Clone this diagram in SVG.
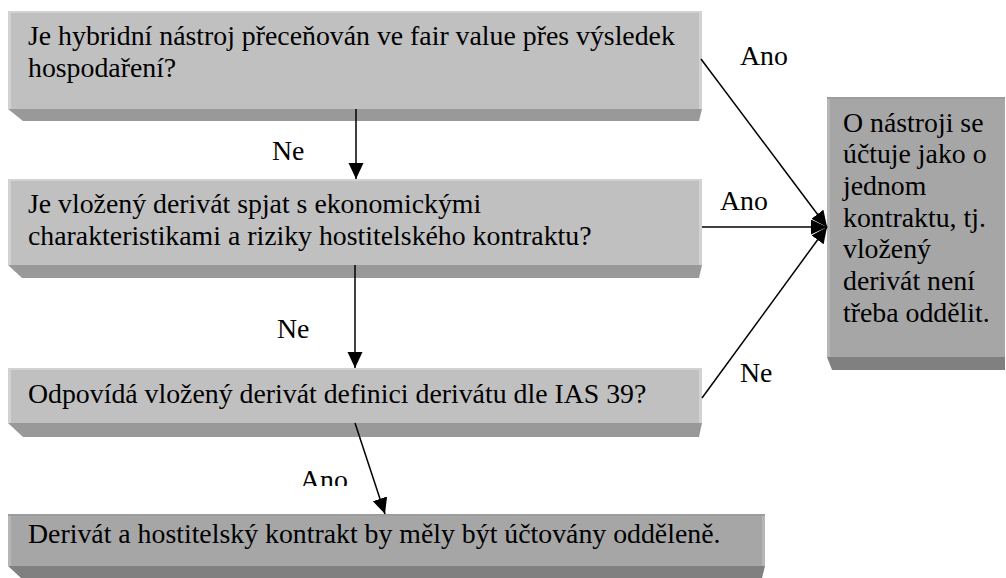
<svg xmlns="http://www.w3.org/2000/svg" width="1006" height="578" viewBox="0 0 1006 578">
<style>
.t{font-family:Liberation Serif;font-size:27.8px;fill:#000}
.face{fill:#c0c0c0}
.bevel{fill:#999999}
.hl{fill:#d2d2d2}
.face2{fill:#a6a6a6}
.bevel2{fill:#808080}
.hl2{fill:#b6b6b6}
.top2{fill:#9c9c9c}
.ln{stroke:#000;stroke-width:1.5;fill:none}
</style>
<defs>
<marker id="ah" markerUnits="userSpaceOnUse" markerWidth="17" markerHeight="16" refX="16" refY="7.5" orient="auto" viewBox="0 0 17 16">
<path d="M0,0 L16,7.5 L0,15 z" fill="#000"/>
</marker>
<clipPath id="clipAno"><rect x="280" y="440" width="100" height="46"/></clipPath>
</defs>
<rect width="1006" height="578" fill="#fff"/>

<g id="box1">
<polygon class="bevel" points="8,109 702,109 699,121 23,121"/>
<rect class="face" x="8" y="11" width="694" height="98"/>
<rect class="hl" x="8" y="11" width="3" height="98"/>
<rect class="hl" x="699" y="11" width="3" height="98"/>
<rect class="hl" x="8" y="11" width="694" height="2"/>
<text class="t" x="28" y="45">Je hybridní nástroj přeceňován ve fair value přes výsledek</text>
<text class="t" x="28" y="77">hospodaření?</text>
</g>

<g id="box2">
<polygon class="bevel" points="8,265 702,265 699,278 22,278"/>
<rect class="face" x="8" y="179" width="694" height="86"/>
<rect class="hl" x="8" y="179" width="3" height="86"/>
<rect class="hl" x="699" y="179" width="3" height="86"/>
<rect class="hl" x="8" y="179" width="694" height="2"/>
<text class="t" x="28" y="213">Je vložený derivát spjat s ekonomickými</text>
<text class="t" x="28" y="245">charakteristikami a riziky hostitelského kontraktu?</text>
</g>

<g id="box3">
<polygon class="bevel" points="8,423 702,423 699,437 23,437"/>
<rect class="face" x="8" y="368" width="694" height="55"/>
<rect class="hl" x="8" y="368" width="3" height="55"/>
<rect class="hl" x="699" y="368" width="3" height="55"/>
<rect class="hl" x="8" y="368" width="694" height="2"/>
<text class="t" x="28" y="403">Odpovídá vložený derivát definici derivátu dle IAS 39?</text>
</g>

<g id="box4">
<polygon class="bevel2" points="8,566 765,566 762,578 21,578"/>
<rect class="face2" x="8" y="514" width="757" height="52"/>
<rect class="hl2" x="8" y="514" width="3" height="52"/>
<rect class="hl2" x="762" y="514" width="3" height="52"/>
<rect class="top2" x="8" y="514" width="757" height="2"/>
<text class="t" x="28" y="543">Derivát a hostitelský kontrakt by měly být účtovány odděleně.</text>
</g>

<g id="box5">
<polygon class="bevel2" points="827,357 1005,357 1005,370 832,370"/>
<rect class="face2" x="827" y="97" width="178" height="260"/>
<rect class="hl2" x="827" y="97" width="3" height="260"/>
<rect class="top2" x="827" y="97" width="178" height="2"/>
<text class="t" x="843" y="132">O nástroji se</text>
<text class="t" x="843" y="163">účtuje jako o</text>
<text class="t" x="843" y="195">jednom</text>
<text class="t" x="843" y="227">kontraktu, tj.</text>
<text class="t" x="843" y="258">vložený</text>
<text class="t" x="843" y="290">derivát není</text>
<text class="t" x="843" y="322">třeba oddělit.</text>
</g>

<g id="connectors">
<line class="ln" x1="356" y1="109" x2="356" y2="179" marker-end="url(#ah)"/>
<line class="ln" x1="355" y1="265" x2="355" y2="368" marker-end="url(#ah)"/>
<line class="ln" x1="355" y1="423" x2="385" y2="514" marker-end="url(#ah)"/>
<line class="ln" x1="701" y1="59" x2="827" y2="227" marker-end="url(#ah)"/>
<line class="ln" x1="702" y1="227" x2="827" y2="227" marker-end="url(#ah)"/>
<line class="ln" x1="702" y1="398" x2="827" y2="227" marker-end="url(#ah)"/>
</g>

<g id="labels">
<text class="t" x="740" y="65">Ano</text>
<text class="t" x="720" y="210">Ano</text>
<text class="t" x="740" y="382">Ne</text>
<text class="t" x="272" y="160">Ne</text>
<text class="t" x="277" y="338">Ne</text>
<text class="t" x="300" y="489" clip-path="url(#clipAno)">Ano</text>
</g>
</svg>
